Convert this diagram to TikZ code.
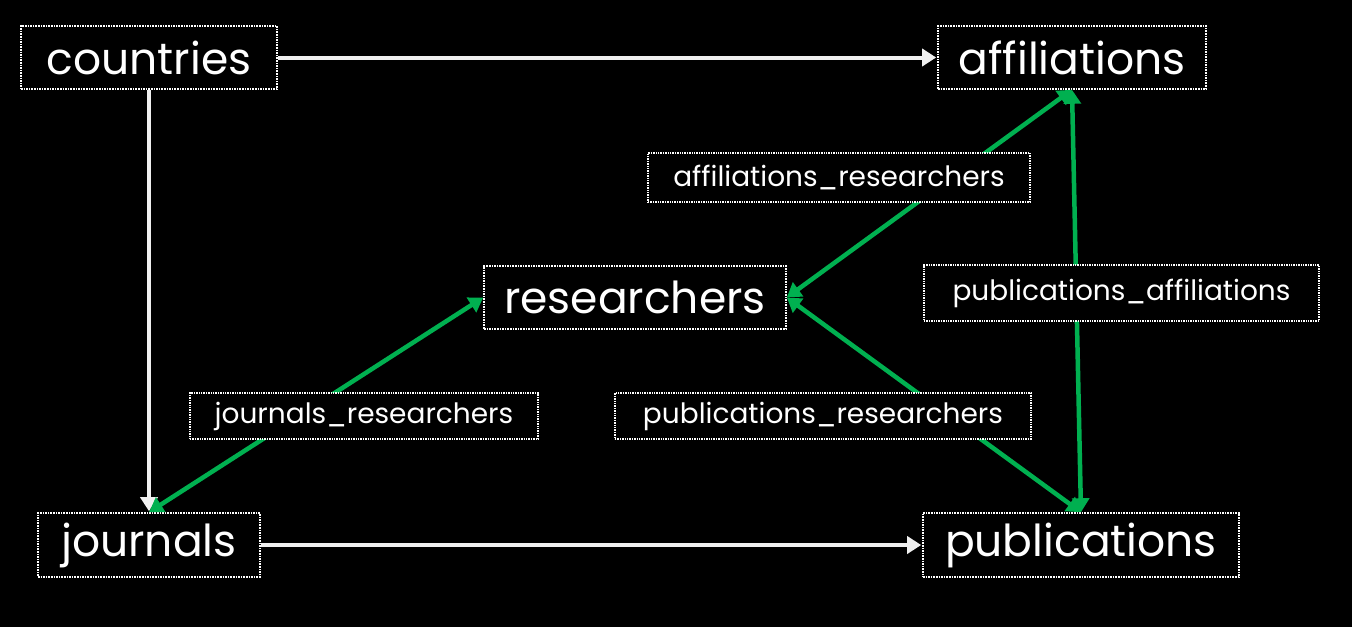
\documentclass[tikz,border=0pt]{standalone}
\usepackage{fontspec}
\setmainfont{Poppins}
\usetikzlibrary{arrows.meta}
\definecolor{linkgreen}{HTML}{00B050}
\tikzset{
  entity/.style={draw=white, densely dotted, line width=1.6pt, fill=black,
    text=white, font=\fontsize{44}{46}\selectfont, inner sep=0pt,
    minimum height=63pt},
  linkbox/.style={draw=white, densely dotted, line width=1.4pt, fill=black,
    text=white, font=\fontsize{28}{30}\selectfont, inner sep=0pt,
    minimum height=47pt},
  plain/.style={draw=white!94!black, line width=4pt,
    -{Triangle[length=14pt,width=17pt]}, shorten >=1pt},
  both/.style={draw=linkgreen, line width=4.5pt,
    {Triangle[length=14pt,width=17pt]}-{Triangle[length=14pt,width=17pt]}}
}
\begin{document}
\begin{tikzpicture}[x=1pt,y=-1pt]
  \fill[black] (0,0) rectangle (1352,627);
  \useasboundingbox (0,0) rectangle (1352,627);

  % tables
  \node[entity, minimum width=256pt] (countries) at (149,57.5) {countries};
  \node[entity, minimum width=268pt] (affiliations) at (1072,57.5) {affiliations};
  \node[entity, minimum width=222pt, minimum height=64pt] (journals) at (149,545) {journals};
  \node[entity, minimum width=316pt, minimum height=64pt] (publications) at (1081,545) {publications};
  \node[entity, minimum width=302pt] (researchers) at (635,297.5) {researchers};

  % one-to-many references
  \draw[plain] (countries) -- (affiliations);
  \draw[plain] (countries) -- (journals);
  \draw[plain] (journals) -- (publications);

  % many-to-many links
  \draw[both] (journals.north) -- (researchers.west);
  \draw[both] (affiliations.south) -- (researchers.east);
  \draw[both] (publications.north) -- (researchers.east);
  \draw[both] (publications.north) -- (affiliations.south);

  % link table labels
  \node[linkbox, minimum width=382pt, minimum height=49pt] (affres) at (839,177.5) {affiliations\_researchers};
  \node[linkbox, minimum width=395pt, minimum height=56pt] (pubaff) at (1121.5,293) {publications\_affiliations};
  \node[linkbox, minimum width=348pt, minimum height=46pt] (jourres) at (364,416) {journals\_researchers};
  \node[linkbox, minimum width=416pt, minimum height=46pt] (pubres) at (823,416) {publications\_researchers};
\end{tikzpicture}
\end{document}
